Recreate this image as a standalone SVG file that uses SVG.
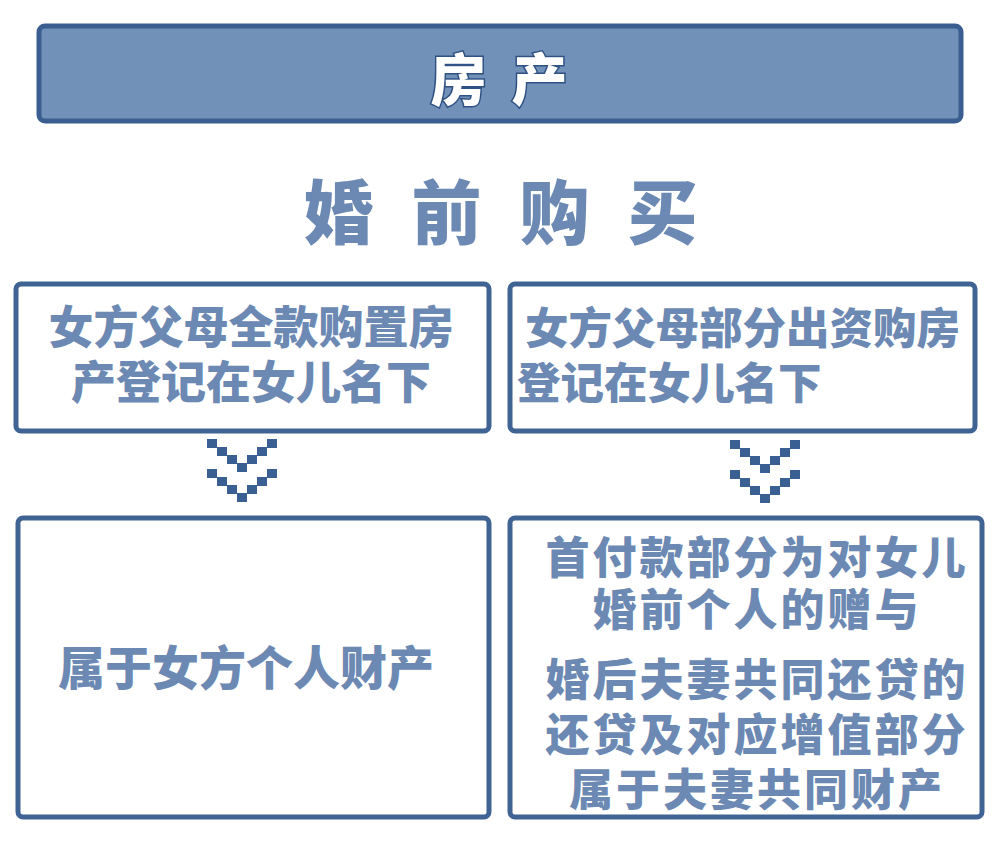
<svg xmlns="http://www.w3.org/2000/svg" width="1000" height="847" viewBox="0 0 1000 847">
<style>
.box{fill:#ffffff;stroke:#3f6494;stroke-width:5}
.t{font-family:"Noto Sans CJK SC","Noto Sans",sans-serif;font-weight:900;fill:#6c89b3}
.c{text-anchor:middle}
.blk{fill:#3a6093}
</style>
<defs>
<g id="chev">
<rect x="0" y="0" width="10" height="9" class="blk"/>
<rect x="10" y="8" width="10" height="9" class="blk"/>
<rect x="20" y="16" width="10" height="9" class="blk"/>
<rect x="30" y="24" width="10" height="9" class="blk"/>
<rect x="40" y="16" width="10" height="9" class="blk"/>
<rect x="50" y="8" width="10" height="9" class="blk"/>
<rect x="60" y="0" width="10" height="9" class="blk"/>
<rect x="0" y="30" width="10" height="9" class="blk"/>
<rect x="10" y="38" width="10" height="9" class="blk"/>
<rect x="20" y="46" width="10" height="9" class="blk"/>
<rect x="30" y="54" width="10" height="9" class="blk"/>
<rect x="40" y="46" width="10" height="9" class="blk"/>
<rect x="50" y="38" width="10" height="9" class="blk"/>
<rect x="60" y="30" width="10" height="9" class="blk"/>
</g>
</defs>
<rect width="1000" height="847" fill="#ffffff"/>
<g id="header">
<rect x="39" y="26" width="922" height="95" rx="6" fill="#7191b9" stroke="#3a5e90" stroke-width="5"/>
<text x="502" y="100" class="c" font-family="'Noto Sans CJK SC',sans-serif" font-weight="900" font-size="56" fill="#ffffff" stroke="#2f5283" stroke-width="3" paint-order="stroke" letter-spacing="6">房 产</text>
</g>
<g id="subtitle">
<text x="506" y="239" class="t c" font-size="70" letter-spacing="11">婚 前 购 买</text>
</g>
<g id="box1">
<rect x="16" y="284" width="473" height="147" rx="5" class="box"/>
<text class="t c" font-size="45"><tspan x="251" y="344">女方父母全款购置房</tspan><tspan x="251" y="399">产登记在女儿名下</tspan></text>
</g>
<g id="box2">
<rect x="510" y="284" width="465" height="147" rx="5" class="box"/>
<text class="t" font-size="43.5"><tspan x="525" y="344">女方父母部分出资购房</tspan><tspan x="517" y="399">登记在女儿名下</tspan></text>
</g>
<g id="connectors">
<use href="#chev" x="207" y="439"/>
<use href="#chev" x="730" y="440"/>
</g>
<g id="box3">
<rect x="18" y="518" width="471" height="299" rx="5" class="box"/>
<text x="246" y="685" class="t c" font-size="47">属于女方个人财产</text>
</g>
<g id="box4">
<rect x="510" y="518" width="472" height="299" rx="5" class="box"/>
<text class="t c" font-size="44" letter-spacing="3"><tspan x="757" y="574">首付款部分为对女儿</tspan><tspan x="757" y="626">婚前个人的赠与</tspan></text>
<text class="t c" font-size="44" letter-spacing="3"><tspan x="757" y="696">婚后夫妻共同还贷的</tspan><tspan x="757" y="751">还贷及对应增值部分</tspan><tspan x="757" y="806">属于夫妻共同财产</tspan></text>
</g>
</svg>
